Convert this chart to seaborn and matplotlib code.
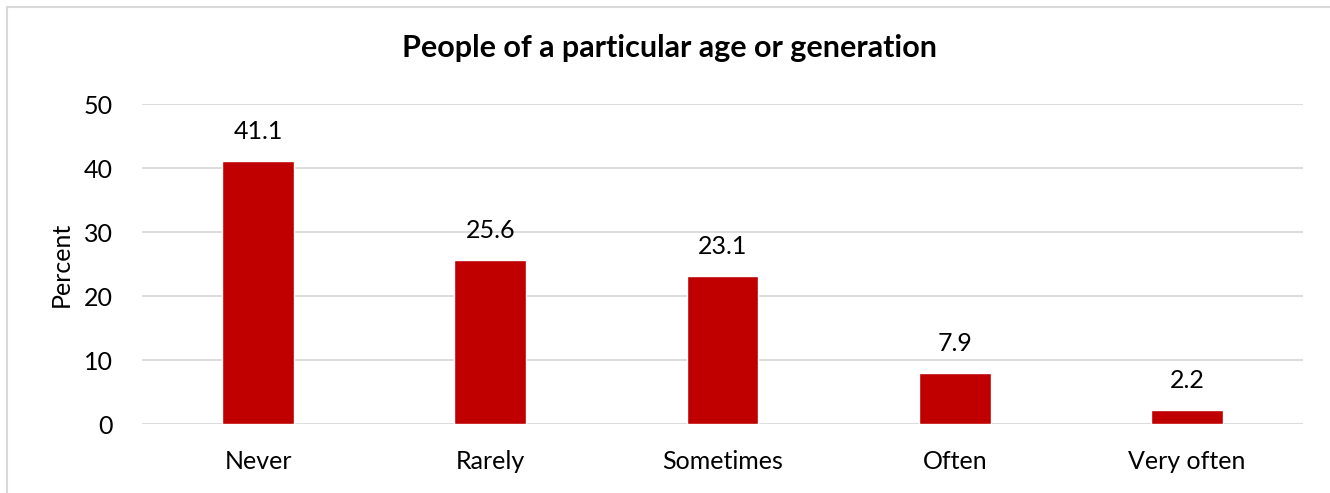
import matplotlib
matplotlib.use("Agg")
import matplotlib.pyplot as plt
import seaborn as sns
import pandas as pd
from matplotlib.patches import Rectangle

categories = ["Never", "Rarely", "Sometimes", "Often", "Very often"]
values = [41.1, 25.6, 23.1, 7.9, 2.2]
yticks = [0, 10, 20, 30, 40, 50]
title = "People of a particular age or generation"
ylabel = "Percent"

sns.set_theme(style="white")
plt.rcParams['font.family'] = ['Lato', 'DejaVu Sans']
plt.rcParams['text.color'] = 'black'
plt.rcParams['xtick.color'] = 'black'
plt.rcParams['ytick.color'] = 'black'
plt.rcParams['axes.labelcolor'] = 'black'

df = pd.DataFrame({"cat": categories, "val": values})

fig = plt.figure(figsize=(13.3, 4.93), dpi=100)
ax = fig.add_axes([142/1330, 1-424/493, (1303-142)/1330, (424-104)/493])

sns.barplot(data=df, x="cat", y="val", color="#c00000", saturation=1, width=0.31, ax=ax, zorder=3)

ax.set_ylim(0, 50)
ax.set_xlim(-0.5, len(categories)-0.5)
ax.set_yticks(yticks)
ax.set_yticklabels([str(t) for t in yticks], fontsize=18)
ax.tick_params(axis='x', labelsize=18, length=0, pad=19, labelcolor='black')
ax.tick_params(axis='y', length=0, pad=21, labelcolor='black')
ax.yaxis.grid(True, color="#d9d9d9", linewidth=1.3, zorder=0)
ax.set_axisbelow(True)
for s in ax.spines.values():
    s.set_visible(False)
ax.set_xlabel("")
ax.set_ylabel(ylabel, fontsize=18, color='black')
ax.yaxis.set_label_coords((73-142)/1161, 0.5)

for p, v in zip(ax.patches, values):
    ax.annotate(f"{v:.1f}", (p.get_x() + p.get_width()/2, p.get_height()),
                xytext=(0, 13), textcoords="offset points", ha="center", va="bottom",
                fontsize=18, color='black')

fig.text(670/1330, 1-48/493, title, ha="center", va="center", fontsize=22,
         fontweight="bold", color='black')

fig.patches.append(Rectangle((7/1330, -0.05), 1.1, 1-7/493+0.05, transform=fig.transFigure,
                             fill=False, edgecolor="#d9d9d9", linewidth=1.5))

fig.savefig("out.png", dpi=100)
